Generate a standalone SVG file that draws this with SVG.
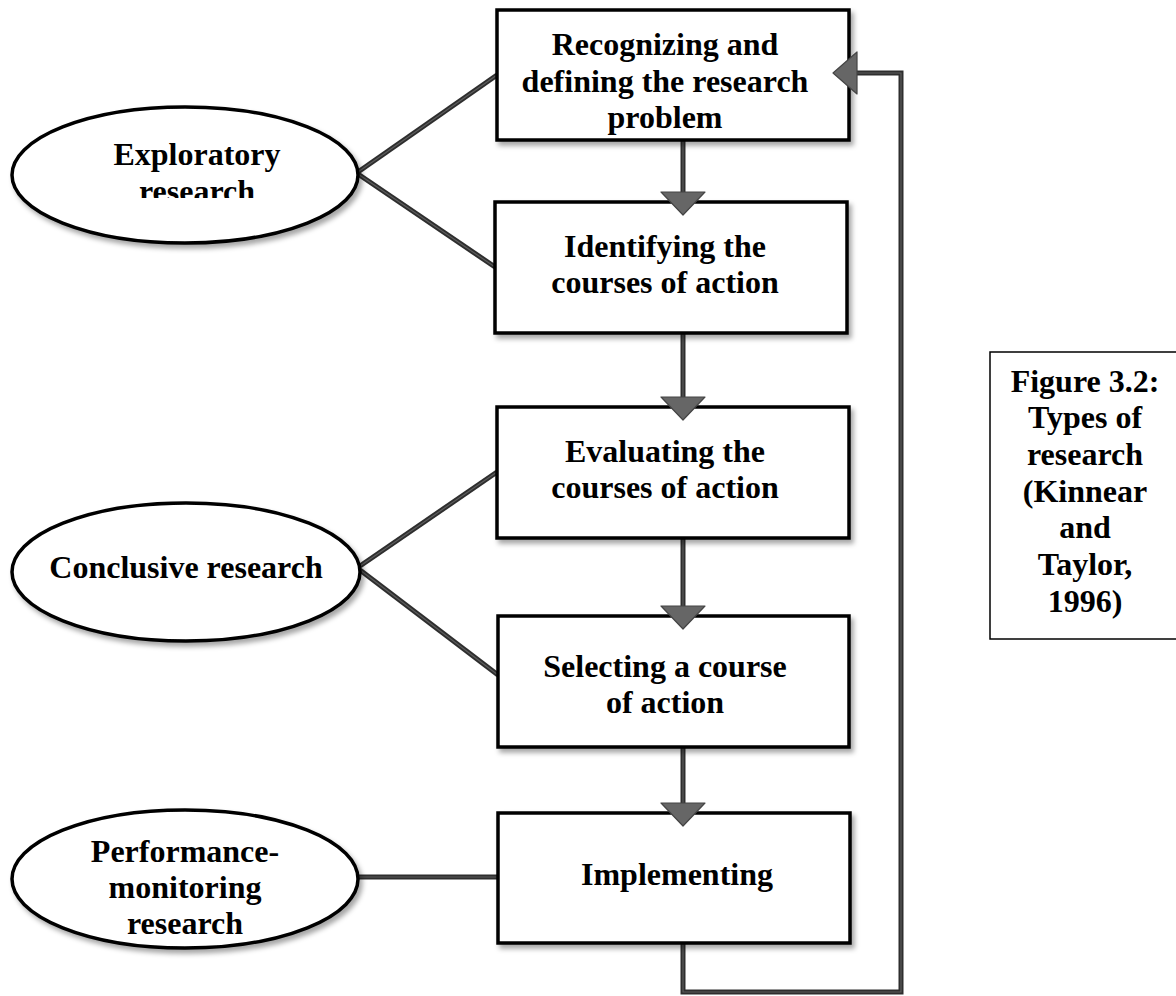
<svg xmlns="http://www.w3.org/2000/svg" width="1176" height="996" viewBox="0 0 1176 996">
<defs>
<filter id="sh" x="-10%" y="-10%" width="125%" height="130%">
<feDropShadow dx="3" dy="4" stdDeviation="2.5" flood-color="#000" flood-opacity="0.35"/>
</filter>
<clipPath id="clipExp"><rect x="90" y="120" width="220" height="78"/></clipPath>
</defs>
<style>
.box{fill:#fff;stroke:#000;stroke-width:3.5}
.ell{fill:#fff;stroke:#000;stroke-width:3.5}
.t{font-family:"Liberation Serif","Times New Roman",serif;font-weight:bold;font-size:32px;fill:#000;text-anchor:middle}
.c1{fill:none;stroke:#2e2e2e;stroke-width:5;stroke-linejoin:miter}
.c2{fill:none;stroke:#5c5c5c;stroke-width:1.2;stroke-linejoin:miter}
.ah{fill:#666;stroke:#444;stroke-width:1.2;stroke-linejoin:round}
.cap{fill:#fff;stroke:#000;stroke-width:1.5}
</style>

<g id="connectors">
<g>
<line class="c1" x1="358" y1="172" x2="497" y2="75"/>
<line class="c1" x1="358" y1="174" x2="495" y2="267"/>
<line class="c1" x1="360" y1="566" x2="497" y2="472"/>
<line class="c1" x1="360" y1="570" x2="498" y2="675"/>
<line class="c1" x1="358" y1="877" x2="498" y2="877"/>
<line class="c1" x1="683" y1="140" x2="683" y2="195"/>
<line class="c1" x1="683" y1="333" x2="683" y2="400"/>
<line class="c1" x1="683" y1="538" x2="683" y2="609"/>
<line class="c1" x1="683" y1="747" x2="683" y2="806"/>
<polyline class="c1" points="683,943 683,992 901,992 901,73 855,73"/>
</g>
<g>
<line class="c2" x1="358" y1="172" x2="497" y2="75"/>
<line class="c2" x1="358" y1="174" x2="495" y2="267"/>
<line class="c2" x1="360" y1="566" x2="497" y2="472"/>
<line class="c2" x1="360" y1="570" x2="498" y2="675"/>
<line class="c2" x1="358" y1="877" x2="498" y2="877"/>
<line class="c2" x1="683" y1="140" x2="683" y2="195"/>
<line class="c2" x1="683" y1="333" x2="683" y2="400"/>
<line class="c2" x1="683" y1="538" x2="683" y2="609"/>
<line class="c2" x1="683" y1="747" x2="683" y2="806"/>
<polyline class="c2" points="683,943 683,992 901,992 901,73 855,73"/>
</g>
</g>

<g id="n1" filter="url(#sh)"><rect class="box" x="497" y="10" width="352" height="130"/></g>
<g id="n1-text">
<text class="t" x="665" y="55">Recognizing and</text>
<text class="t" x="665" y="92">defining the research</text>
<text class="t" x="665" y="128">problem</text>
</g>

<g id="n2" filter="url(#sh)"><rect class="box" x="495" y="202" width="352" height="131"/></g>
<g id="n2-text">
<text class="t" x="665" y="257">Identifying the</text>
<text class="t" x="665" y="293">courses of action</text>
</g>

<g id="n3" filter="url(#sh)"><rect class="box" x="497" y="407" width="352" height="131"/></g>
<g id="n3-text">
<text class="t" x="665" y="462">Evaluating the</text>
<text class="t" x="665" y="498">courses of action</text>
</g>

<g id="n4" filter="url(#sh)"><rect class="box" x="498" y="616" width="351" height="131"/></g>
<g id="n4-text">
<text class="t" x="665" y="677">Selecting a course</text>
<text class="t" x="665" y="713">of action</text>
</g>

<g id="n5" filter="url(#sh)"><rect class="box" x="498" y="813" width="352" height="130"/></g>
<g id="n5-text">
<text class="t" x="677" y="885">Implementing</text>
</g>

<g id="arrowheads">
<polygon class="ah" points="661,192 705,192 683,215"/>
<polygon class="ah" points="661,397 705,397 683,420"/>
<polygon class="ah" points="661,606 705,606 683,629"/>
<polygon class="ah" points="661,803 705,803 683,826"/>
<polygon class="ah" points="857,52 857,94 833,73"/>
</g>

<g id="e1">
<ellipse class="ell" cx="185" cy="175" rx="173" ry="68" filter="url(#sh)"/>
<g clip-path="url(#clipExp)">
<text class="t" x="197" y="165">Exploratory</text>
<text class="t" x="197" y="202">research</text>
</g>
</g>

<g id="e2">
<ellipse class="ell" cx="186" cy="572" rx="174" ry="69" filter="url(#sh)"/>
<text class="t" x="186" y="578">Conclusive research</text>
</g>

<g id="e3">
<ellipse class="ell" cx="185" cy="879" rx="173" ry="69" filter="url(#sh)"/>
<text class="t" x="185" y="862">Performance-</text>
<text class="t" x="185" y="898">monitoring</text>
<text class="t" x="185" y="934">research</text>
</g>

<g id="caption">
<rect class="cap" x="990" y="352" width="200" height="287"/>
<text class="t" x="1085" y="392">Figure 3.2:</text>
<text class="t" x="1085" y="428">Types of</text>
<text class="t" x="1085" y="465">research</text>
<text class="t" x="1085" y="502">(Kinnear</text>
<text class="t" x="1085" y="538">and</text>
<text class="t" x="1085" y="575">Taylor,</text>
<text class="t" x="1085" y="612">1996)</text>
</g>
</svg>
